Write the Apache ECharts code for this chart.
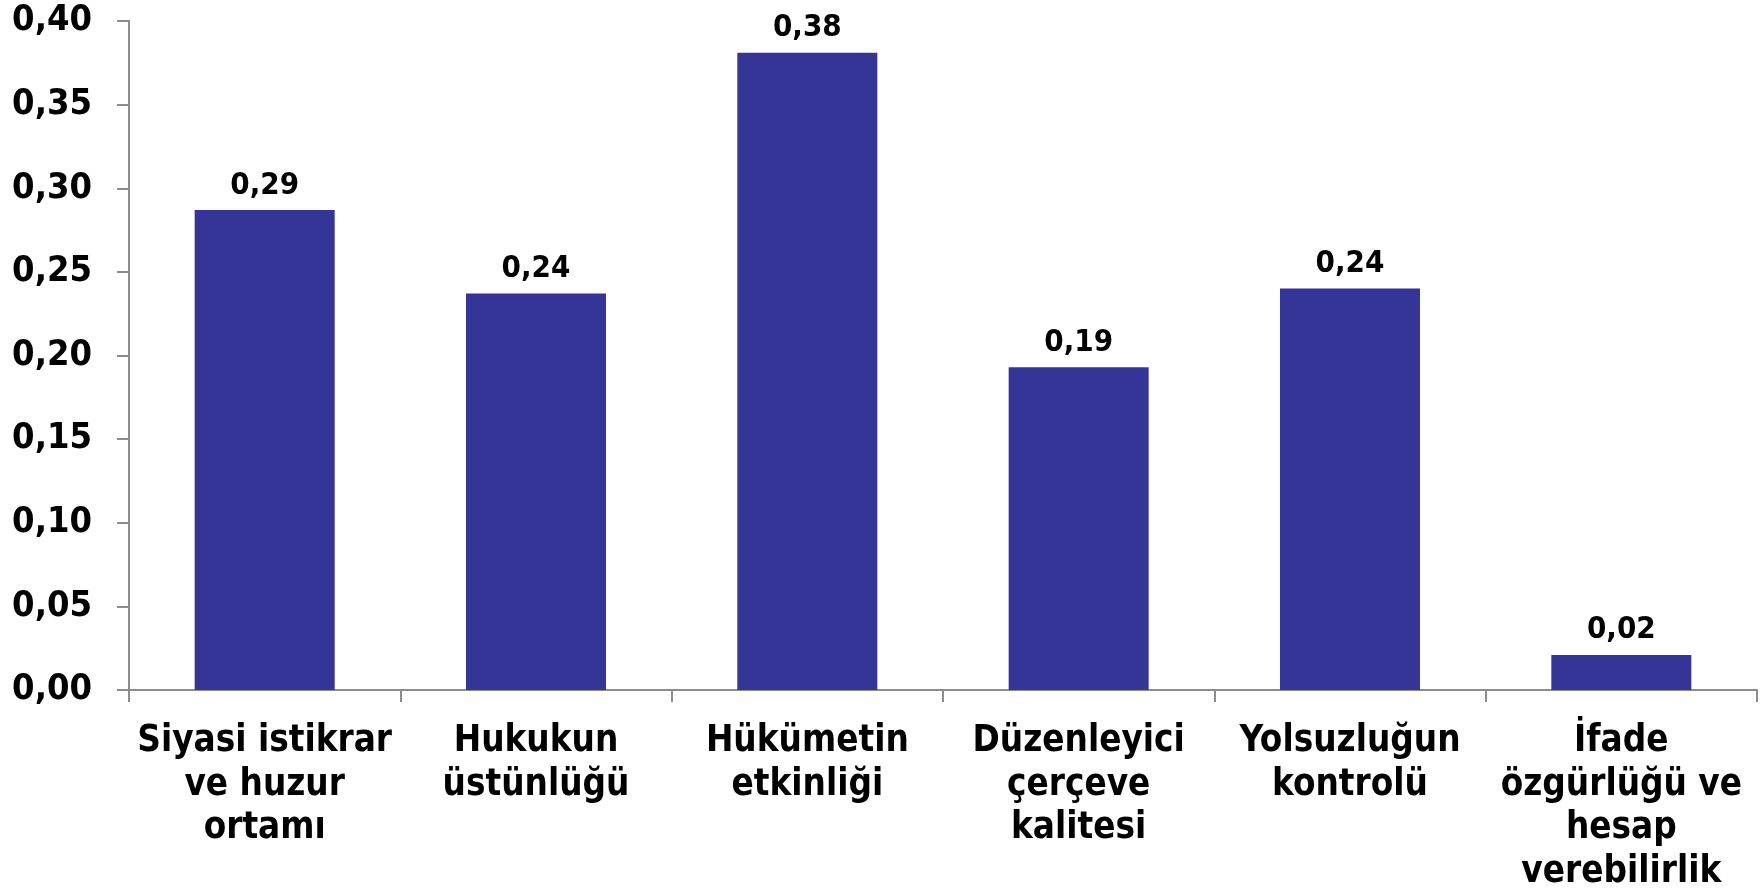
<!DOCTYPE html>
<html><head><meta charset="utf-8">
<script src="https://cdn.jsdelivr.net/npm/echarts@6/dist/echarts.min.js"></script>
<style>html,body{margin:0;padding:0;background:#fff}#c{width:1762px;height:890px}</style>
</head><body><div id="c"></div>
<script>
var categories = ['Siyasi istikrar\nve huzur\nortamı', 'Hukukun\nüstünlüğü', 'Hükümetin\netkinliği', 'Düzenleyici\nçerçeve\nkalitesi', 'Yolsuzluğun\nkontrolü', 'İfade\nözgürlüğü ve\nhesap\nverebilirlik'];
var values = [0.287, 0.237, 0.381, 0.193, 0.240, 0.021];
var FONT = '"DejaVu Sans Condensed", "DejaVu Sans", sans-serif';
function fmt(v){ return v.toFixed(2).replace('.', ','); }
var chart = echarts.init(document.getElementById('c'));
chart.setOption({
  animation: false,
  grid: {left: 129, top: 21, right: 5, bottom: 200, containLabel: false, outerBoundsMode: 'none'},
  xAxis: {
    type: 'category', data: categories,
    axisLine: {lineStyle: {color: '#8c8c8c', width: 2}},
    axisTick: {show: true, length: 12, lineStyle: {color: '#8c8c8c', width: 2}},
    axisLabel: {interval: 0, margin: 30, color: '#000', fontFamily: FONT, fontWeight: 'bold', fontSize: 36.5, lineHeight: 43.5}
  },
  yAxis: {
    type: 'value', min: 0, max: 0.4, interval: 0.05,
    splitLine: {show: false},
    axisLine: {show: true, lineStyle: {color: '#8c8c8c', width: 2}},
    axisTick: {show: true, length: 12, lineStyle: {color: '#8c8c8c', width: 2}},
    axisLabel: {margin: 37, color: '#000', fontFamily: FONT, fontWeight: 'bold', fontSize: 36, formatter: fmt}
  },
  series: [{
    type: 'bar', data: values, barWidth: '51.6%',
    itemStyle: {color: '#353598'},
    label: {show: true, position: 'top', distance: 9, color: '#000', fontFamily: FONT, fontWeight: 'bold', fontSize: 31, formatter: function(p){return fmt(p.value);}}
  }]
});
</script></body></html>
